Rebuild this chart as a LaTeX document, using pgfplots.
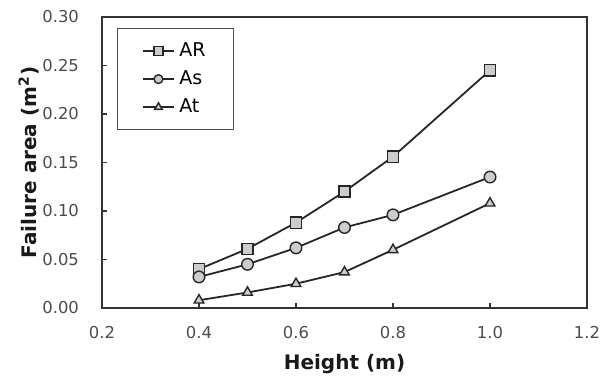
\documentclass[border=0pt]{standalone}
\usepackage{pgfplots}
\pgfplotsset{compat=1.18}
\usepackage{fontspec}
\setmainfont{DejaVu Sans}
\begin{document}
\begin{tikzpicture}
\begin{axis}[
  scale only axis,
  width=242.5pt, height=145.5pt,
  xmin=0.2, xmax=1.2, ymin=0, ymax=0.30,
  xtick={0.2,0.4,...,1.2}, ytick={0,0.05,...,0.30},
  tick align=inside, xtick pos=bottom, ytick pos=left,
  major tick length=2.5pt,
  axis line style={line width=1pt, black!80},
  tick style={line width=0.8pt, black!80},
  /pgf/number format/assume math mode=true,
  xticklabel style={/pgf/number format/.cd, fixed, fixed zerofill, precision=1, /tikz/.cd, yshift=-5.5pt},
  yticklabel style={/pgf/number format/.cd, fixed, fixed zerofill, precision=2, /tikz/.cd, xshift=-8pt},
  ticklabel style={font=\fontsize{8.2}{10}\selectfont, text=black!70},
  xlabel={\textbf{Height (m)}},
  ylabel={\textbf{Failure area (m\textsuperscript{2})}},
  label style={font=\fontsize{10}{12}\selectfont, text=black!90},
  xlabel style={yshift=-1pt},
  ylabel style={yshift=-5pt},
  legend style={at={(0.031,0.962)}, anchor=north west, draw=black!70, line width=0.6pt,
    font=\fontsize{9.5}{11}\selectfont, row sep=1.6pt, inner xsep=12pt, inner ysep=5pt,
    cells={anchor=west}, /tikz/every even column/.append style={column sep=0pt}},
  legend image code/.code={
    \draw[#1, mark repeat=2, mark phase=2, mark size=2.2pt] plot coordinates {(0cm,0cm) (0.28cm,0cm) (0.56cm,0cm)};
  },
  every axis plot/.append style={line width=0.9pt, black!85,
    mark options={fill=black!20, line width=0.7pt, solid}},
]
\addplot[mark=square*, mark size=2.8pt] coordinates {
(0.4,0.040) (0.5,0.061) (0.6,0.088) (0.7,0.120) (0.8,0.156) (1.0,0.245)};
\addlegendentry{AR}
\addplot[mark=*, mark size=2.9pt] coordinates {
(0.4,0.032) (0.5,0.045) (0.6,0.062) (0.7,0.083) (0.8,0.096) (1.0,0.135)};
\addlegendentry{As}
\addplot[mark=triangle*, mark size=2.8pt] coordinates {
(0.4,0.008) (0.5,0.016) (0.6,0.025) (0.7,0.037) (0.8,0.060) (1.0,0.108)};
\addlegendentry{At}
\end{axis}
\path (current axis.south west) ++(-51pt,-36pt);
\path (current axis.north east) ++(11.5pt,8.5pt);
\end{tikzpicture}
\end{document}
